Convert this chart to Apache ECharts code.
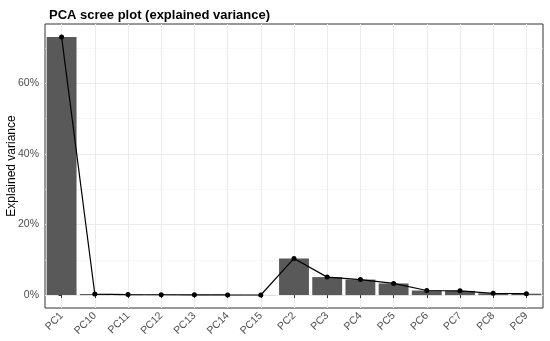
<!DOCTYPE html>
<html>
<head>
<meta charset="utf-8">
<script src="https://cdn.jsdelivr.net/npm/echarts@6/dist/echarts.min.js"></script>
<style>
  html, body { margin: 0; padding: 0; background: #fff; }
  #chart { width: 550px; height: 341px; }
</style>
</head>
<body>
<div id="chart"></div>
<script>
// components in the order ggplot sorted them (alphabetical)
const components = ["PC1", "PC10", "PC11", "PC12", "PC13", "PC14", "PC15",
  "PC2", "PC3", "PC4", "PC5", "PC6", "PC7", "PC8", "PC9"];
// explained variance, percent
const variance = [73.2, 0.3, 0.15, 0.1, 0.08, 0.05, 0.03,
  10.4, 5.1, 4.4, 3.3, 1.3, 1.2, 0.5, 0.4];
const majorTicks = [0, 20, 40, 60];
const minorTicks = [10, 30, 50, 70];

// ggplot-style 5% expansion of the y range
const maxVar = Math.max(...variance);
const yMin = -maxVar * 0.05;
const yMax = maxVar * 1.05;

const chart = echarts.init(document.getElementById("chart"), null, { renderer: "canvas" });

const options = {
  backgroundColor: "#ffffff",
  animation: false,
  title: {
    text: "PCA scree plot (explained variance)",
    left: 44,
    top: 4,
    textStyle: { fontFamily: "Liberation Sans", fontSize: 13, fontWeight: "bold", color: "#000" },
  },
  grid: {
    left: 45, right: 7, top: 24, bottom: 33,
    outerBoundsMode: "none",
    containLabel: false,
    show: true, borderColor: "#333333", borderWidth: 1, backgroundColor: "#fff", z: 0,
  },
  xAxis: [
    {
      type: "category",
      data: components,
      axisLine: { show: false },
      axisTick: { show: true, alignWithLabel: true, length: 3, lineStyle: { color: "#333" } },
      splitLine: { show: false },
      axisLabel: {
        rotate: 45, margin: 6, fontSize: 10.5, color: "#4d4d4d", fontFamily: "Liberation Sans",
      },
    },
    {
      // only used for the vertical grid lines at each category centre
      type: "value",
      min: -0.5,
      max: components.length - 0.5,
      position: "bottom",
      axisLine: { show: false },
      axisLabel: { show: false },
      axisTick: { show: false, customValues: components.map((c, i) => i) },
      splitLine: { show: true, lineStyle: { color: "#ebebeb", width: 1 } },
    },
  ],
  yAxis: [
    {
      type: "value",
      min: yMin,
      max: yMax,
      name: "Explained variance",
      nameLocation: "middle",
      nameGap: 27,
      nameMoveOverlap: false,
      nameTextStyle: { fontFamily: "Liberation Sans", fontSize: 12, color: "#000" },
      axisLine: { show: false },
      axisTick: { show: true, length: 3, customValues: majorTicks, lineStyle: { color: "#333" } },
      axisLabel: {
        customValues: majorTicks, margin: 6, fontSize: 10.5, color: "#4d4d4d",
        fontFamily: "Liberation Sans", formatter: (v) => v + "%",
      },
      splitLine: { show: true, lineStyle: { color: "#ebebeb", width: 1 } },
    },
    {
      // minor grid lines
      type: "value",
      min: yMin,
      max: yMax,
      axisLine: { show: false },
      axisLabel: { show: false },
      axisTick: { show: false, customValues: minorTicks },
      splitLine: { show: true, lineStyle: { color: "#f2f2f2", width: 0.6 } },
    },
  ],
  series: [
    {
      type: "bar",
      data: variance,
      barCategoryGap: "10%",
      itemStyle: { color: "#595959" },
      z: 2,
    },
    {
      type: "line",
      data: variance,
      symbol: "circle",
      symbolSize: 5,
      lineStyle: { color: "#000", width: 1.2 },
      itemStyle: { color: "#000" },
      z: 3,
    },
  ],
};

chart.setOption(options);
</script>
</body>
</html>
